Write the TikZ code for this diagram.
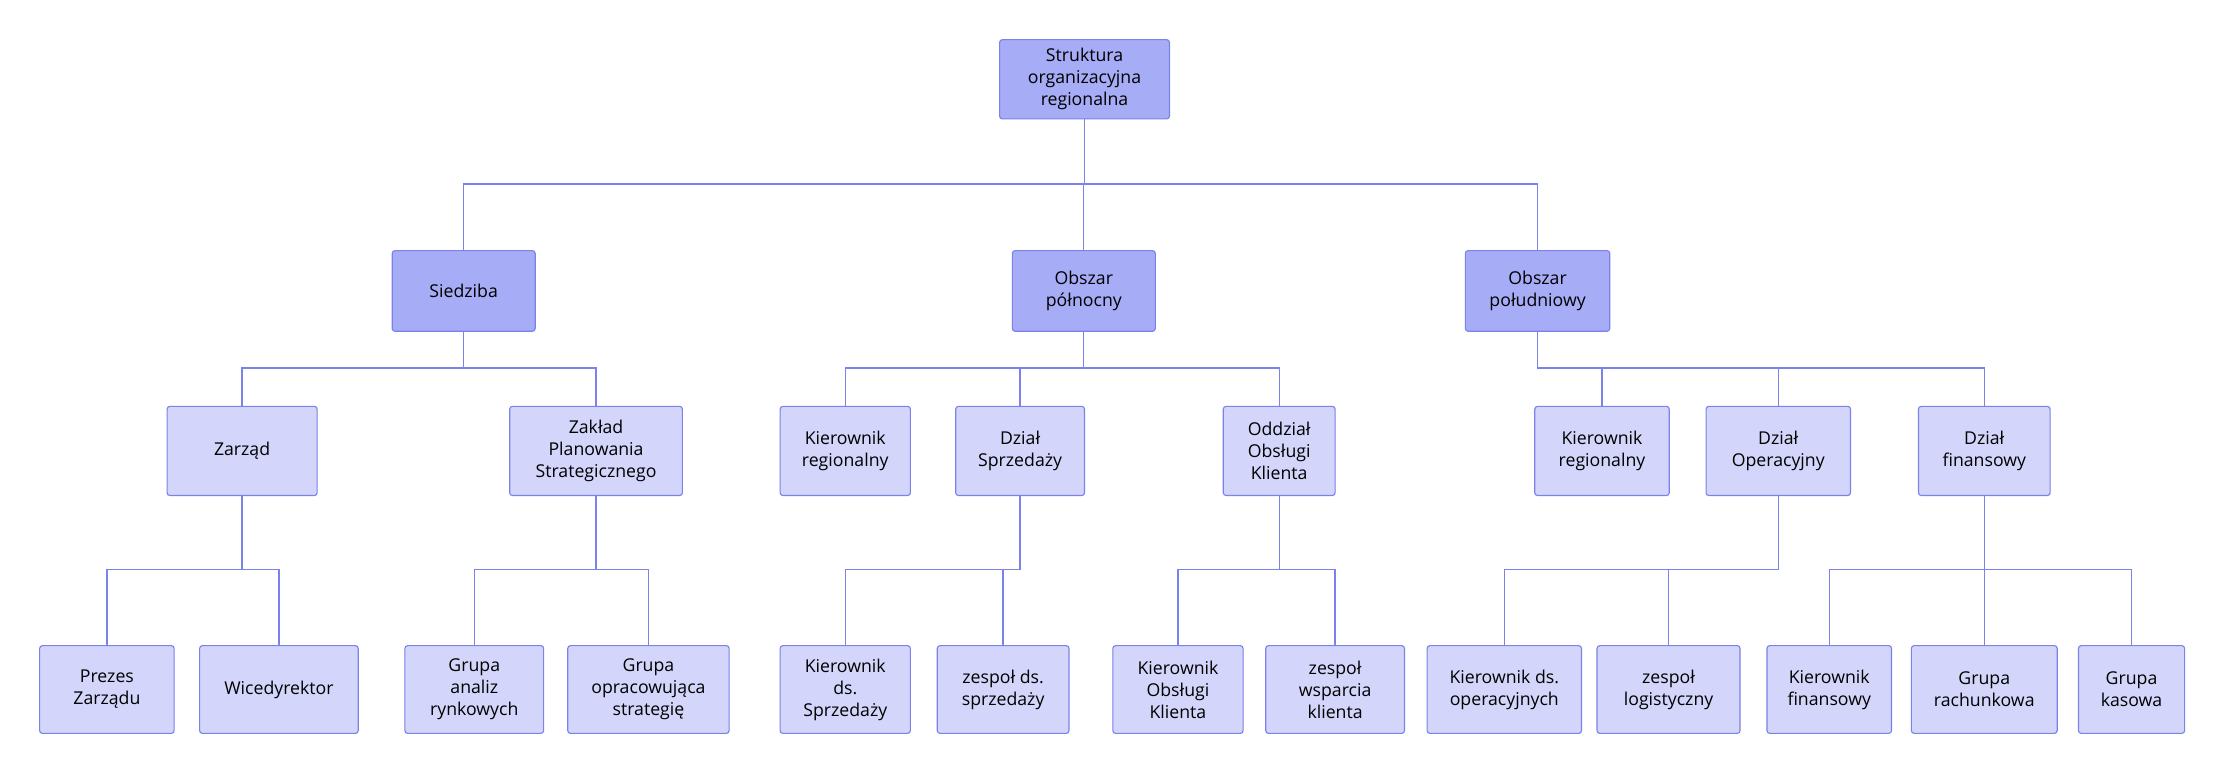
\documentclass[tikz,border=0pt]{standalone}
\usepackage{fontspec}
\setmainfont{Open Sans}
\begin{document}
\begin{tikzpicture}[x=1pt,y=-1pt,
  base/.style={draw=lineC,rounded corners=2pt,align=center,inner sep=2pt,font=\fontsize{12.5}{15.5}\selectfont,text=black,line width=0.8pt},
  dark/.style={base,fill=darkF},
  light/.style={base,fill=lightF},
  con/.style={draw=lineC,line width=0.9pt}]
\definecolor{lineC}{HTML}{7B82EA}
\definecolor{darkF}{HTML}{A6ACF5}
\definecolor{lightF}{HTML}{D3D6FA}
\useasboundingbox[fill=white] (0,0) rectangle (1568,544);
\newcommand{\bx}[6]{\node[#1,minimum width=#4pt,minimum height=#5pt] (#2) at (#3) {#6};}
% root
\bx{dark}{r}{766,56}{120}{56}{Struktura\\organizacyjna\\regionalna}
\bx{dark}{s}{327.5,205.5}{101}{57}{Siedziba}
\bx{dark}{n}{765.5,205.5}{101}{57}{Obszar\\północny}
\bx{dark}{p}{1086,205.5}{102}{57}{Obszar\\południowy}
% level 2
\bx{light}{za}{171,318.5}{106}{63}{Zarząd}
\bx{light}{zp}{421,318.5}{122}{63}{Zakład\\Planowania\\Strategicznego}
\bx{light}{kr1}{597,318.5}{92}{63}{Kierownik\\regionalny}
\bx{light}{ds}{720.5,318.5}{91}{63}{Dział\\Sprzedaży}
\bx{light}{ok}{903.5,318.5}{79}{63}{Oddział\\Obsługi\\Klienta}
\bx{light}{kr2}{1131.5,318.5}{95}{63}{Kierownik\\regionalny}
\bx{light}{do}{1256,318.5}{102}{63}{Dział\\Operacyjny}
\bx{light}{df}{1401.5,318.5}{93}{63}{Dział\\finansowy}
% level 3
\bx{light}{pz}{75.5,487}{95}{62}{Prezes\\Zarządu}
\bx{light}{wd}{197,487}{112}{62}{Wicedyrektor}
\bx{light}{ga}{335,487}{98}{62}{Grupa\\analiz\\rynkowych}
\bx{light}{go}{458,487}{114}{62}{Grupa\\opracowująca\\strategię}
\bx{light}{ks}{597,487}{92}{62}{Kierownik\\ds.\\Sprzedaży}
\bx{light}{zs}{708.5,487}{93}{62}{zespoł ds.\\sprzedaży}
\bx{light}{ko}{832,487}{92}{62}{Kierownik\\Obsługi\\Klienta}
\bx{light}{zw}{943,487}{98}{62}{zespoł\\wsparcia\\klienta}
\bx{light}{kop}{1062.5,487}{109}{62}{Kierownik ds.\\operacyjnych}
\bx{light}{zl}{1178.5,487}{101}{62}{zespoł\\logistyczny}
\bx{light}{kf}{1292,487}{88}{62}{Kierownik\\finansowy}
\bx{light}{gr}{1401.5,487}{103}{62}{Grupa\\rachunkowa}
\bx{light}{gk}{1505.5,487}{75}{62}{Grupa\\kasowa}
% connectors
\foreach \pp/\bus/\kids in {r/130/{s,n,p}, s/260/{za,zp}, n/260/{kr1,ds,ok}, p/260/{kr2,do,df},
  za/402/{pz,wd}, zp/402/{ga,go}, ds/402/{ks,zs}, ok/402/{ko,zw}, do/402/{kop,zl}, df/402/{kf,gr,gk}}{
  \foreach \k in \kids {
    \draw[con] (\pp.south) -- (\pp.south |- 0,\bus) -| (\k.north);
  }
}
\end{tikzpicture}
\end{document}
